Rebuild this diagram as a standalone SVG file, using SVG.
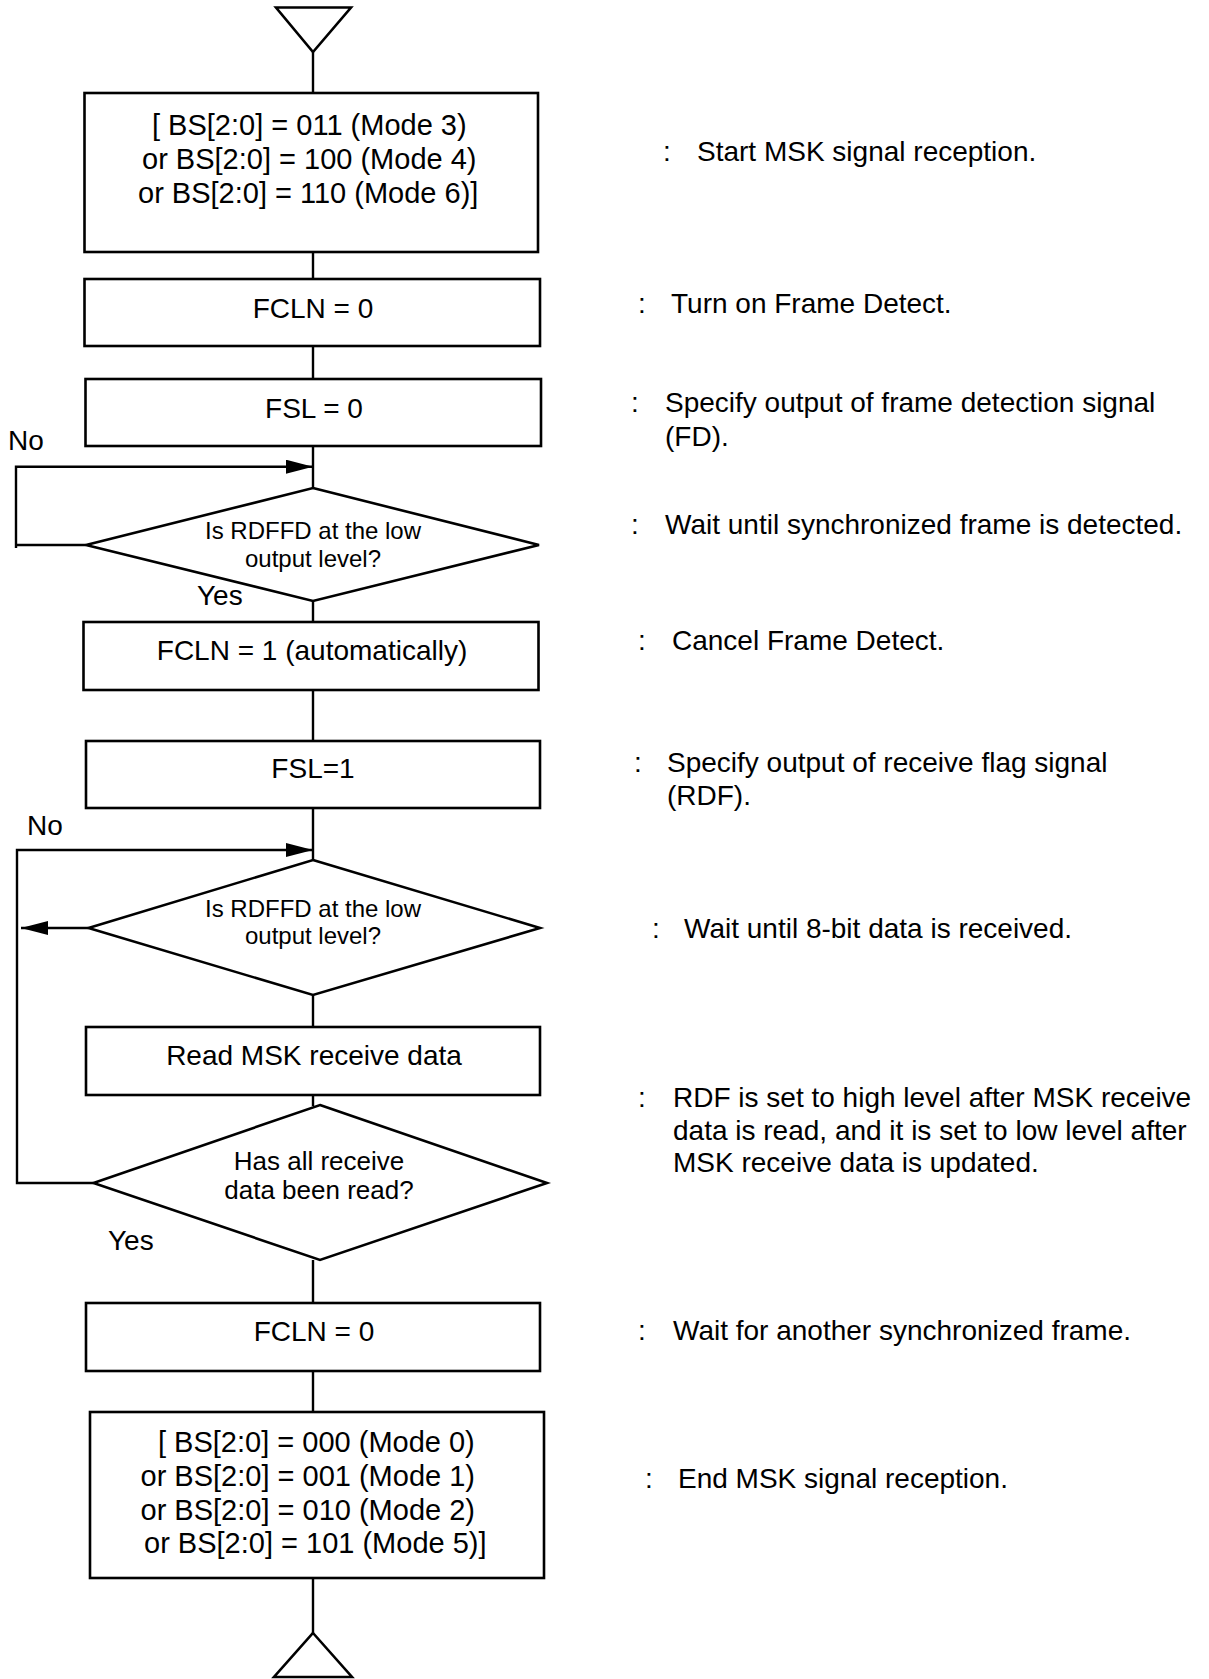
<svg xmlns="http://www.w3.org/2000/svg" width="1209" height="1679" viewBox="0 0 1209 1679">
<style>
  .shape { fill: #fff; stroke: #000; stroke-width: 2.6; }
  .line { fill: none; stroke: #000; stroke-width: 2.4; }
  text { font-family: "Liberation Sans", Arial, sans-serif; fill: #000; }
  .t28 { font-size: 28px; }
  .t29 { font-size: 29px; }
  .t24 { font-size: 24px; }
  .t26 { font-size: 26px; }
  .c { text-anchor: middle; }
</style>
<defs>
  <marker id="arrow" markerUnits="userSpaceOnUse" markerWidth="27" markerHeight="14" refX="27" refY="7" orient="auto">
    <path d="M0,0 L27,7 L0,14 Z" fill="#000"/>
  </marker>
</defs>
<rect width="1209" height="1679" fill="#fff"/>

<g id="connectors">
  <line class="line" x1="313" y1="52" x2="313" y2="93"/>
  <line class="line" x1="313" y1="252" x2="313" y2="279"/>
  <line class="line" x1="313" y1="346" x2="313" y2="379"/>
  <line class="line" x1="313" y1="446" x2="313" y2="488"/>
  <polyline class="line" points="86,545 16,545"/>
  <polyline class="line" points="16,548 16,466.7 313,466.7" marker-end="url(#arrow)"/>
  <line class="line" x1="313" y1="601" x2="313" y2="622"/>
  <line class="line" x1="313" y1="690" x2="313" y2="741"/>
  <line class="line" x1="313" y1="808" x2="313" y2="860"/>
  <polyline class="line" points="93.5,1183 17,1183 17,850 313,850" marker-end="url(#arrow)"/>
  <line class="line" x1="88.5" y1="928" x2="21" y2="928" marker-end="url(#arrow)"/>
  <line class="line" x1="313" y1="995" x2="313" y2="1027"/>
  <line class="line" x1="313" y1="1095" x2="313" y2="1106"/>
  <line class="line" x1="313" y1="1260" x2="313" y2="1303"/>
  <line class="line" x1="313" y1="1371" x2="313" y2="1412"/>
  <line class="line" x1="313" y1="1578" x2="313" y2="1633"/>
</g>

<g id="start">
  <polygon class="shape" points="276,7.5 351,7.5 313,52"/>
</g>

<g id="box-mode-start">
  <rect class="shape" x="84.5" y="93" width="453.5" height="159"/>
  <text class="t29" x="152" y="135">[ BS[2:0] = 011 (Mode 3)</text>
  <text class="t29" x="142" y="169">or BS[2:0] = 100 (Mode 4)</text>
  <text class="t29" x="138" y="203">or BS[2:0] = 110 (Mode 6)]</text>
</g>

<g id="box-fcln0">
  <rect class="shape" x="84.5" y="279" width="455.5" height="67"/>
  <text class="t28 c" x="313" y="318">FCLN = 0</text>
</g>

<g id="box-fsl0">
  <rect class="shape" x="85.5" y="379" width="455.5" height="67"/>
  <text class="t28 c" x="314" y="418">FSL = 0</text>
</g>

<g id="label-no-1">
  <text class="t28" x="8" y="450">No</text>
</g>

<g id="dec-frame">
  <polygon class="shape" points="313,488 539,545 313,601 86,545"/>
  <text class="t24 c" x="313" y="539">Is RDFFD at the low</text>
  <text class="t24 c" x="313" y="567">output level?</text>
</g>

<g id="label-yes-1">
  <text class="t28" x="197" y="605">Yes</text>
</g>

<g id="box-fcln1">
  <rect class="shape" x="83.5" y="622" width="455" height="68"/>
  <text class="t28 c" x="312" y="660">FCLN = 1 (automatically)</text>
</g>

<g id="box-fsl1">
  <rect class="shape" x="86" y="741" width="454" height="67"/>
  <text class="t28 c" x="313" y="778">FSL=1</text>
</g>

<g id="label-no-2">
  <text class="t28" x="27" y="835">No</text>
</g>

<g id="dec-data">
  <polygon class="shape" points="313,860 540,928 313,995 88.5,928"/>
  <text class="t24 c" x="313" y="917">Is RDFFD at the low</text>
  <text class="t24 c" x="313" y="944">output level?</text>
</g>

<g id="box-read">
  <rect class="shape" x="86" y="1027" width="454" height="68"/>
  <text class="t28 c" x="314" y="1065">Read MSK receive data</text>
</g>

<g id="dec-all">
  <polygon class="shape" points="320,1105 547,1183 320,1260 93.5,1183"/>
  <text class="t26 c" x="319" y="1170">Has all receive</text>
  <text class="t26 c" x="319" y="1199">data been read?</text>
</g>

<g id="label-yes-2">
  <text class="t28" x="108" y="1250">Yes</text>
</g>

<g id="box-fcln0-b">
  <rect class="shape" x="86" y="1303" width="454" height="68"/>
  <text class="t28 c" x="314" y="1341">FCLN = 0</text>
</g>

<g id="box-mode-end">
  <rect class="shape" x="90" y="1412" width="454" height="166"/>
  <text class="t29" x="158" y="1452">[ BS[2:0] = 000 (Mode 0)</text>
  <text class="t29" x="140.5" y="1486">or BS[2:0] = 001 (Mode 1)</text>
  <text class="t29" x="140.5" y="1520">or BS[2:0] = 010 (Mode 2)</text>
  <text class="t29" x="144" y="1553">or BS[2:0] = 101 (Mode 5)]</text>
</g>

<g id="end">
  <polygon class="shape" points="313,1633 352,1677 274,1677"/>
</g>

<g id="notes">
  <text class="t28" x="663" y="161">:</text>
  <text class="t28" x="697" y="161">Start MSK signal reception.</text>
  <text class="t28" x="638" y="313">:</text>
  <text class="t28" x="671" y="313">Turn on Frame Detect.</text>
  <text class="t28" x="631" y="412">:</text>
  <text class="t28" x="665" y="412">Specify output of frame detection signal</text>
  <text class="t28" x="665" y="446">(FD).</text>
  <text class="t28" x="631" y="534">:</text>
  <text class="t28" x="665" y="534">Wait until synchronized frame is detected.</text>
  <text class="t28" x="638" y="650">:</text>
  <text class="t28" x="672" y="650">Cancel Frame Detect.</text>
  <text class="t28" x="634" y="772">:</text>
  <text class="t28" x="667" y="772">Specify output of receive flag signal</text>
  <text class="t28" x="667" y="805">(RDF).</text>
  <text class="t28" x="652" y="938">:</text>
  <text class="t28" x="684" y="938">Wait until 8-bit data is received.</text>
  <text class="t28" x="638" y="1107">:</text>
  <text class="t28" x="673" y="1107">RDF is set to high level after MSK receive</text>
  <text class="t28" x="673" y="1140">data is read, and it is set to low level after</text>
  <text class="t28" x="673" y="1172">MSK receive data is updated.</text>
  <text class="t28" x="638" y="1340">:</text>
  <text class="t28" x="673" y="1340">Wait for another synchronized frame.</text>
  <text class="t28" x="645" y="1488">:</text>
  <text class="t28" x="678" y="1488">End MSK signal reception.</text>
</g>
</svg>
